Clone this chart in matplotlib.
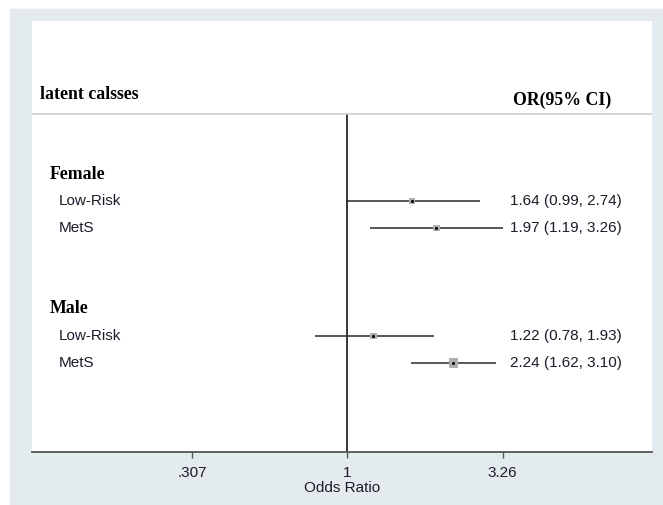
import matplotlib
matplotlib.use("Agg")
import matplotlib.pyplot as plt
import matplotlib.transforms as mtransforms
from matplotlib.patches import Rectangle
import numpy as np

# data
groups = ["Female", "Male"]
classes = ["Low-Risk", "MetS"]
or_vals = [1.64, 1.97, 1.22, 2.24]
ci_low = [0.99, 1.19, 0.78, 1.62]
ci_high = [2.74, 3.26, 1.93, 3.10]
tick_vals = [0.307, 1, 3.26]
tick_labels = [".307", "1", "3.26"]

sans = "Liberation Sans"
serif = "Liberation Serif"
txt_col = "#1c1c2a"

fig = plt.figure(figsize=(6.63, 5.05), dpi=100)
fig.patch.set_facecolor("white")
# light stata-like background
fig.patches.append(Rectangle((10 / 663, 0), 653 / 663, 496 / 505,
                             transform=fig.transFigure, color="#e4ebee", zorder=-5))

ax = fig.add_axes([32 / 663, 53 / 505, 620 / 663, 431 / 505])
ax.set_facecolor("white")
ax.set_xscale("log")
ax.set_xlim(0.0907, 10.16)
ax.set_ylim(10.3, -5.67)

# row positions: group header, then its classes
row_pos = []
header_pos = []
r = 0
for g in groups:
    header_pos.append(r)
    for c in classes:
        r += 1
        row_pos.append(r)
    r += 3
row_pos = np.array(row_pos)

# weights for box size (inverse variance)
se = (np.log(ci_high) - np.log(ci_low)) / 3.92
w = 1 / se**2
box = 19 * w / w.min()

ax.hlines(row_pos, ci_low, ci_high, color="#2a2a2a", lw=1.1, zorder=2)
ax.scatter(or_vals, row_pos, s=box, marker="s", color="#b0b0b0", zorder=3, linewidths=0)
ax.scatter(or_vals, row_pos, s=5, marker="o", color="black", zorder=4, linewidths=0)
ax.axvline(1, ymin=0, ymax=(10.3 + 2.22) / (10.3 + 5.67), color="black", lw=1.1, zorder=1)
ax.axhline(-2.22, color="#cfcfcf", lw=1.2)

trans = mtransforms.blended_transform_factory(ax.transAxes, ax.transData)
ax.text(0.013, -2.93, "latent calsses", transform=trans, fontsize=12.8,
        fontweight="bold", family=serif, va="center", color="black")
ax.text(0.776, -2.74, "OR(95% CI)", transform=trans, fontsize=12.8,
        fontweight="bold", family=serif, va="center", color="black")

for g, hp in zip(groups, header_pos):
    ax.text(0.029, hp, g, transform=trans, fontsize=12.8, fontweight="bold",
            family=serif, va="center", color="black")

labels = [c for g in groups for c in classes]
for lab, yp, o, lo, hi in zip(labels, row_pos, or_vals, ci_low, ci_high):
    ax.text(0.043, yp, lab, transform=trans, fontsize=11, family=sans,
            va="center", color=txt_col)
    ax.text(0.771, yp, f"{o:.2f} ({lo:.2f}, {hi:.2f})", transform=trans,
            fontsize=11, family=sans, va="center", color=txt_col)

ax.set_xticks(tick_vals)
ax.set_xticklabels(tick_labels, family=sans, fontsize=11, color=txt_col)
ax.xaxis.set_minor_locator(matplotlib.ticker.NullLocator())
ax.tick_params(axis="x", length=4.3, width=1, color="#555555", pad=5.5)
ax.set_yticks([])
ax.set_xlabel("Odds Ratio", family=sans, fontsize=11, color=txt_col, labelpad=1)

for s in ["left", "right", "top"]:
    ax.spines[s].set_visible(False)
ax.spines["bottom"].set_color("#555555")
ax.spines["bottom"].set_linewidth(1.3)

fig.savefig("out.png", dpi=100, facecolor=fig.get_facecolor())
